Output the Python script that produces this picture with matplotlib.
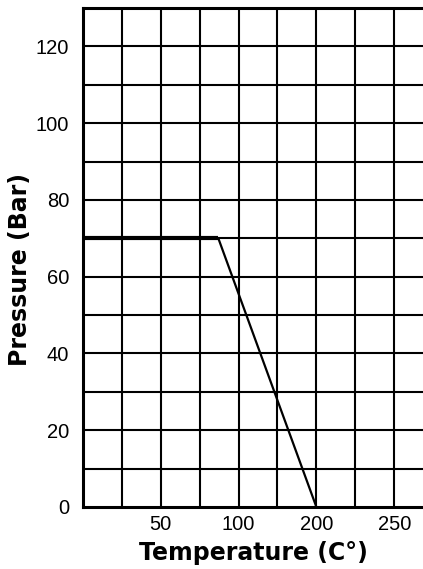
import numpy as np
import matplotlib.pyplot as plt

# pressure/temperature limit curve (x in chart units, 25 per grid division)
temperature = [0, 87, 150]
pressure = [70, 70, 0]

xtick_pos = [50, 100, 150, 200]
xtick_labels = ['50', '100', '200', '250']
ytick_pos = [0, 20, 40, 60, 80, 100, 120]

plt.rcParams['font.family'] = ['Liberation Sans', 'DejaVu Sans']

fig = plt.figure(figsize=[4.23, 5.69], dpi=100)
sub = fig.add_axes([0.196, 0.109, 0.804, 0.877])

# line: flat part thicker than slope
sub.plot(temperature[:2], pressure[:2], color='black', linewidth=3.0, solid_capstyle='butt', zorder=3)
sub.plot(temperature[1:], pressure[1:], color='black', linewidth=1.6, zorder=3)

sub.set_xlim(0, 218.5)
sub.set_ylim(0, 130)

# grid on every division
for xv in np.arange(25, 218.5, 25):
    sub.axvline(xv, color='black', linewidth=1.5, zorder=1)
for yv in np.arange(10, 130, 10):
    sub.axhline(yv, color='black', linewidth=1.5, zorder=1)

sub.set_xticks(xtick_pos)
sub.set_xticklabels(xtick_labels)
sub.set_yticks(ytick_pos)
sub.tick_params(axis='both', which='both', length=0, labelsize=14.5)
sub.tick_params(axis='y', pad=10)
sub.tick_params(axis='x', pad=6)

for s in ['left', 'bottom', 'top']:
    sub.spines[s].set_linewidth(2.2)
sub.spines['right'].set_visible(False)

sub.set_xlabel('Temperature (C°)', fontsize=17, fontweight='bold', family='DejaVu Sans', labelpad=5)
sub.set_ylabel('Pressure (Bar)', fontsize=17, fontweight='bold', family='DejaVu Sans')
sub.yaxis.set_label_coords(-0.15, 0.475)

fig.savefig('out.png', dpi=100)
